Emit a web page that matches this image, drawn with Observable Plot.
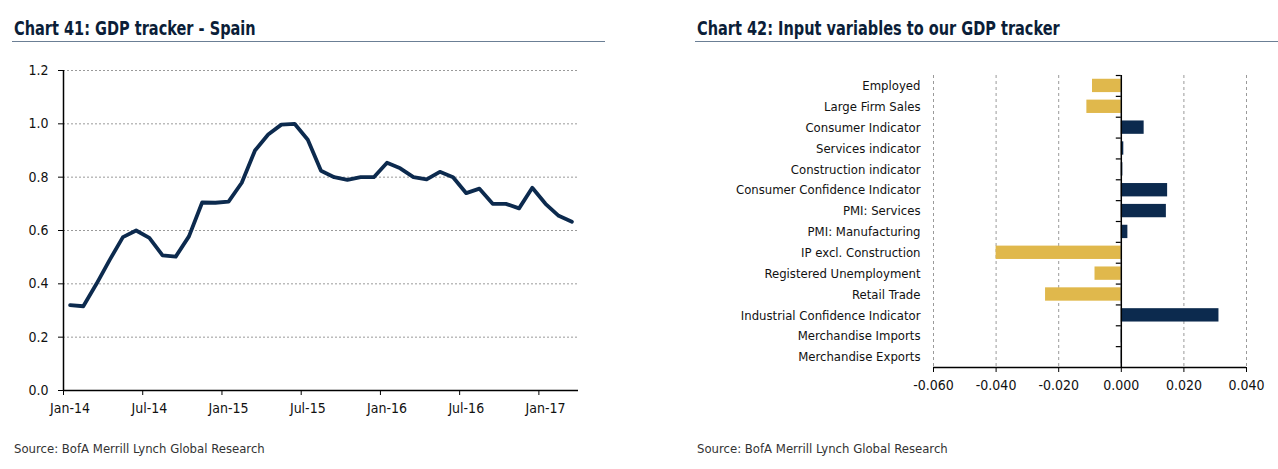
<!DOCTYPE html>
<html>
<head>
<meta charset="utf-8">
<script src="https://cdn.jsdelivr.net/npm/d3@7"></script>
<script src="https://cdn.jsdelivr.net/npm/@observablehq/plot@0.6"></script>
<style>
  body { margin: 0; width: 1278px; height: 469px; position: relative; background: #fff; overflow: hidden;
         font-family: "DejaVu Sans Condensed", "Liberation Sans Narrow", sans-serif; }
  .title { position: absolute; font-weight: bold; font-size: 19px; line-height: 20px; color: #0b1e38; white-space: nowrap;
           transform: scaleX(0.85); transform-origin: left center; }
  .hr { position: absolute; height: 1px; background: #6b7f95; }
  .src { position: absolute; font-size: 13px; color: #333; white-space: nowrap; }
  .chart { position: absolute; }
</style>
</head>
<body>
<div class="title" style="left:14px; top:18px;">Chart 41: GDP tracker - Spain</div>
<div class="hr" style="left:12px; top:41px; width:593px;"></div>
<div class="title" style="left:697px; top:18px;">Chart 42: Input variables to our GDP tracker</div>
<div class="hr" style="left:695px; top:41px; width:583px;"></div>
<div id="c1" class="chart" style="left:0; top:50px;"></div>
<div id="c2" class="chart" style="left:690px; top:50px;"></div>
<div class="src" style="left:14px; top:441px;">Source: BofA Merrill Lynch Global Research</div>
<div class="src" style="left:697px; top:441px;">Source: BofA Merrill Lynch Global Research</div>
<script>
// ---------- Chart 41 data ----------
const months = [
  "Jan-14","Feb-14","Mar-14","Apr-14","May-14","Jun-14","Jul-14","Aug-14","Sep-14","Oct-14","Nov-14","Dec-14",
  "Jan-15","Feb-15","Mar-15","Apr-15","May-15","Jun-15","Jul-15","Aug-15","Sep-15","Oct-15","Nov-15","Dec-15",
  "Jan-16","Feb-16","Mar-16","Apr-16","May-16","Jun-16","Jul-16","Aug-16","Sep-16","Oct-16","Nov-16","Dec-16",
  "Jan-17","Feb-17","Mar-17"
];
const gdpTracker = [
  0.320, 0.316, 0.400, 0.490, 0.575, 0.600, 0.572, 0.507, 0.502, 0.578, 0.705, 0.704,
  0.708, 0.779, 0.900, 0.960, 0.997, 1.000, 0.940, 0.824, 0.800, 0.790, 0.800, 0.800,
  0.854, 0.833, 0.800, 0.792, 0.820, 0.800, 0.740, 0.757, 0.700, 0.700, 0.683, 0.760,
  0.700, 0.655, 0.633
];
const yTicks1 = [0, 0.2, 0.4, 0.6, 0.8, 1.0, 1.2];
const xLabelMonths = ["Jan", "Jul"];

// ---------- Chart 42 data ----------
const variables = [
  "Employed", "Large Firm Sales", "Consumer Indicator", "Services indicator", "Construction indicator",
  "Consumer Confidence Indicator", "PMI: Services", "PMI: Manufacturing", "IP excl. Construction",
  "Registered Unemployment", "Retail Trade", "Industrial Confidence Indicator",
  "Merchandise Imports", "Merchandise Exports"
];
const contributions = [
  -0.0092, -0.0110, 0.0073, 0.0008, 0.0005,
  0.0148, 0.0144, 0.0021, -0.0400,
  -0.0084, -0.0242, 0.0312,
  0.0003, 0.0001
];
const xTicks2 = [-0.06, -0.04, -0.02, 0, 0.02, 0.04];

const NAVY = "#0c2a4e";
const GOLD = "#e0b84c";
const FONT = '"DejaVu Sans Condensed", "Liberation Sans Narrow", sans-serif';

// ---------- Chart 41 ----------
const series = months.map((m, i) => ({i, m, v: gdpTracker[i]}));
const labelIdx = series.filter(d => xLabelMonths.includes(d.m.slice(0, 3))).map(d => d.i);
const boundaryIdx = labelIdx.map(i => i - 0.5);
const xDom1 = [-0.5, months.length - 0.5];

const chart1 = Plot.plot({
  width: 610, height: 380,
  marginTop: 20, marginLeft: 63, marginRight: 32, marginBottom: 40,
  style: {fontFamily: FONT, fontSize: "14px", color: "#111", background: "transparent"},
  x: {domain: xDom1, axis: null},
  y: {domain: [0, 1.2], axis: null},
  marks: [
    Plot.gridY(yTicks1.filter(t => t !== 0), {stroke: "#9a9a9a", strokeOpacity: 1, strokeDasharray: "2,2"}),
    Plot.axisY(yTicks1, {tickFormat: d => d.toFixed(1), tickSize: 5, tickPadding: 10, stroke: "#000", label: null, fontSize: 14}),
    Plot.axisX(boundaryIdx, {tickSize: 5, tickFormat: () => "", stroke: "#000", label: null}),
    Plot.axisX(labelIdx, {tickSize: 0, tickPadding: 13, tickFormat: i => months[i], label: null, fontSize: 14}),
    Plot.ruleY([0], {stroke: "#000", strokeWidth: 1.5}),
    Plot.ruleX([xDom1[0]], {stroke: "#000", strokeWidth: 1.5}),
    Plot.line(series, {x: "i", y: "v", stroke: NAVY, strokeWidth: 3.8, strokeLinejoin: "round", strokeLinecap: "round"})
  ]
});
document.getElementById("c1").appendChild(chart1);

// ---------- Chart 42 ----------
const bars = variables.map((name, i) => ({i, name, v: contributions[i]}));
const yDom2 = [-0.5, variables.length - 0.5];
const rowBounds = d3.range(variables.length + 1).map(k => k - 0.5);
const halfBar = 0.32;

const chart2 = Plot.plot({
  width: 588, height: 380,
  marginTop: 25, marginLeft: 243, marginRight: 32, marginBottom: 63,
  style: {fontFamily: FONT, fontSize: "14px", color: "#111", background: "transparent"},
  x: {domain: [-0.06, 0.04], axis: null},
  y: {domain: yDom2, reverse: true, axis: null},
  marks: [
    Plot.gridX(xTicks2.filter(t => t !== 0), {stroke: "#9a9a9a", strokeOpacity: 1, strokeDasharray: "3,3"}),
    Plot.rectX(bars, {x1: 0, x2: "v", y1: d => d.i - halfBar, y2: d => d.i + halfBar, fill: d => d.v < 0 ? GOLD : NAVY}),
    Plot.axisY(bars.map(d => d.i), {anchor: "left", tickSize: 0, tickPadding: 13, tickFormat: i => variables[i], label: null, fontSize: 13}),
    Plot.axisX(xTicks2, {tickSize: 5, tickPadding: 8, tickFormat: d => d.toFixed(3), stroke: "#000", label: null, fontSize: 14}),
    Plot.ruleY(rowBounds.slice(0, -1), {x1: -0.0016, x2: 0, stroke: "#000", strokeWidth: 1.2}),
    Plot.ruleX([0], {stroke: "#000", strokeWidth: 1.5}),
    Plot.ruleY([yDom2[1]], {stroke: "#000", strokeWidth: 1.5})
  ]
});
document.getElementById("c2").appendChild(chart2);
</script>
</body>
</html>
